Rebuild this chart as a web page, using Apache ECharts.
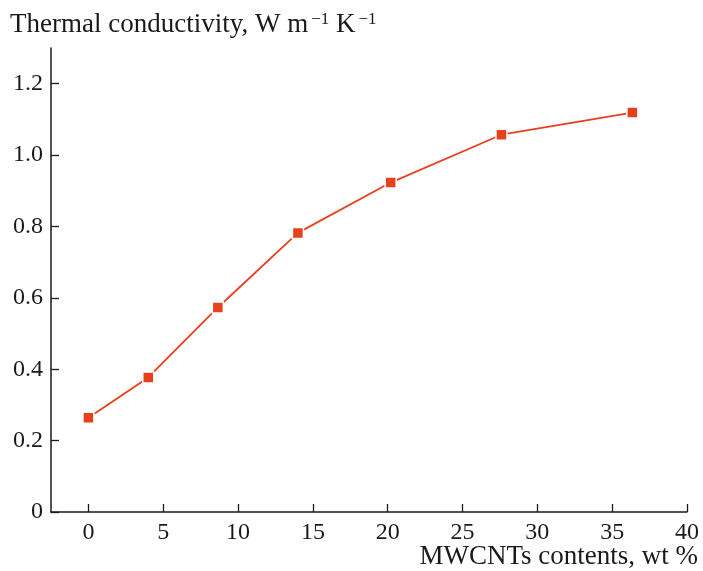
<!DOCTYPE html>
<html>
<head>
<meta charset="utf-8">
<script src="https://cdn.jsdelivr.net/npm/echarts@6/dist/echarts.min.js"></script>
<style>
  html, body { margin: 0; padding: 0; background: #fff; }
  #chart { width: 703px; height: 571px; }
</style>
</head>
<body>
<div id="chart"></div>
<script>
// Data
const mwcntContent = [0, 4.0, 8.65, 14.0, 20.2, 27.6, 36.35];
const thermalConductivity = [0.264, 0.377, 0.573, 0.782, 0.923, 1.057, 1.119];
const xTickValues = [0, 5, 10, 15, 20, 25, 30, 35, 40];
const yTickValues = [0, 0.2, 0.4, 0.6, 0.8, 1.0, 1.2];
const yTickLabels = ['0', '0.2', '0.4', '0.6', '0.8', '1.0', '1.2'];
const yTitleParts = ['Thermal conductivity, W m', '\u22121', ' K', '\u22121'];
const xTitle = 'MWCNTs contents, wt %';

const FONT = '"Liberation Serif", "Times New Roman", serif';
const RED = '#e8401c';

const chart = echarts.init(document.getElementById('chart'), null, { renderer: 'canvas' });

const axisCommon = {
  axisLine: { show: true, onZero: false, lineStyle: { color: '#1a1a1a', width: 1.5 } },
  axisTick: { show: true, inside: true, length: 8, lineStyle: { color: '#1a1a1a', width: 1.3 } },
  splitLine: { show: false },
  axisLabel: { color: '#1a1a1a', fontFamily: FONT, fontSize: 24 }
};

chart.setOption({
  animation: false,
  backgroundColor: '#fff',
  title: [
    {
      text: '{m|' + yTitleParts[0] + '}{s|' + yTitleParts[1] + '}{m|' + yTitleParts[2] + '}{s|' + yTitleParts[3] + '}',
      left: 10,
      top: 9,
      padding: 0,
      textStyle: {
        fontWeight: 'normal',
        rich: {
          m: { fontFamily: FONT, fontSize: 27, fontWeight: 'normal', color: '#1a1a1a', lineHeight: 32 },
          s: { fontFamily: FONT, fontSize: 17, fontWeight: 'normal', color: '#1a1a1a', lineHeight: 17, verticalAlign: 'top', padding: [2, 0, 0, 3] }
        }
      }
    },
    {
      text: xTitle,
      right: 5,
      top: 543,
      padding: 0,
      textStyle: { fontFamily: FONT, fontSize: 27, fontWeight: 'normal', color: '#1a1a1a' }
    }
  ],
  grid: { left: 51, right: 16, top: 48, bottom: 59, containLabel: false },
  xAxis: Object.assign({}, axisCommon, {
    type: 'value',
    min: -2.5,
    max: 40,
    axisTick: Object.assign({}, axisCommon.axisTick, { customValues: xTickValues }),
    axisLabel: Object.assign({}, axisCommon.axisLabel, { customValues: xTickValues, margin: 9 })
  }),
  yAxis: Object.assign({}, axisCommon, {
    type: 'value',
    min: 0,
    max: 1.3,
    axisTick: Object.assign({}, axisCommon.axisTick, { customValues: yTickValues }),
    axisLabel: Object.assign({}, axisCommon.axisLabel, {
      customValues: yTickValues,
      margin: 8,
      formatter: function (v) {
        const i = yTickValues.findIndex(t => Math.abs(t - v) < 1e-6);
        return i >= 0 ? yTickLabels[i] : '';
      }
    })
  }),
  series: [{
    type: 'line',
    data: mwcntContent.map((x, i) => [x, thermalConductivity[i]]),
    symbol: 'rect',
    symbolSize: 11,
    lineStyle: { color: RED, width: 1.8 },
    itemStyle: { color: RED, borderColor: '#fff', borderWidth: 1.5 },
    emphasis: { disabled: true }
  }]
});
</script>
</body>
</html>
